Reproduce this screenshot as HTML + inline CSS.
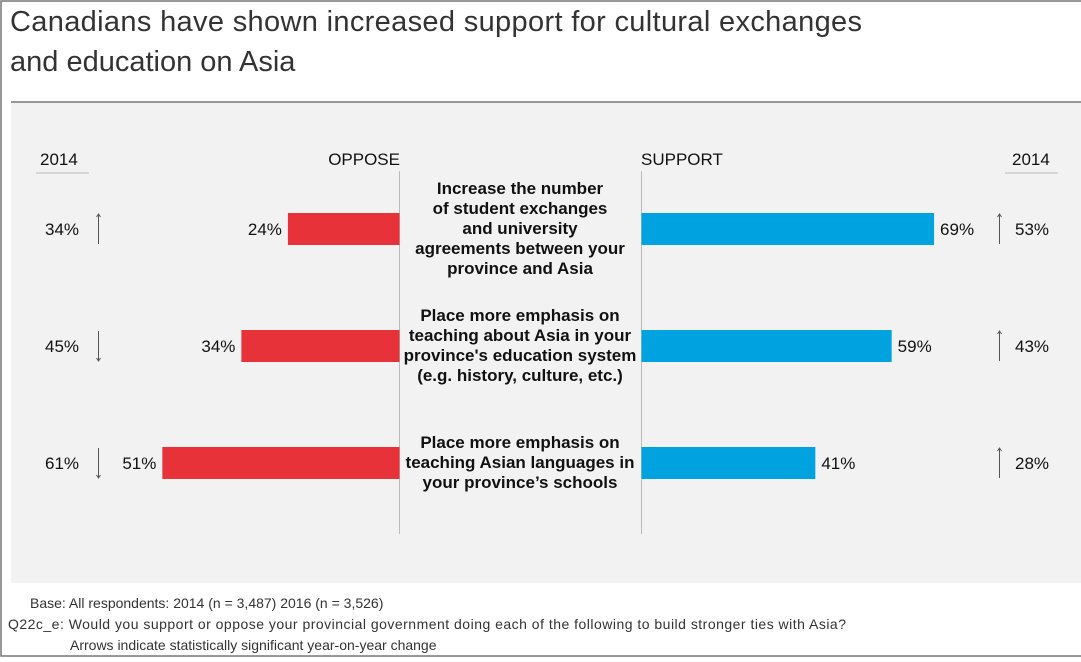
<!DOCTYPE html>
<html><head><meta charset="utf-8"><style>
body{margin:0;width:1081px;height:657px;background:#fff;overflow:hidden;font-family:"Liberation Sans Narrow","Liberation Sans",sans-serif;}
</style></head><body>
<svg width="1081" height="657" xmlns="http://www.w3.org/2000/svg" style="font-family:'Liberation Sans Narrow','Liberation Sans',sans-serif">
<rect x="1" y="1" width="1090" height="655" fill="#fff" stroke="#777" stroke-width="1.5"/>
<text x="10" y="31" font-family="Liberation Sans, sans-serif" font-size="29" fill="#333" textLength="852">Canadians have shown increased support for cultural exchanges</text>
<text x="10" y="71" font-family="Liberation Sans, sans-serif" font-size="29" fill="#333">and education on Asia</text>
<rect x="11" y="102" width="1070" height="481" fill="#f2f2f2"/>
<line x1="11" y1="102" x2="1081" y2="102" stroke="#777" stroke-width="1.5"/>
<text x="40" y="165" font-size="17" fill="#111">2014</text>
<line x1="36" y1="173" x2="89" y2="173" stroke="#bbb"/>
<text x="400" y="165" font-size="17" fill="#111" text-anchor="end">OPPOSE</text>
<text x="641" y="165" font-size="17" fill="#111">SUPPORT</text>
<text x="1012" y="165" font-size="17" fill="#111">2014</text>
<line x1="1005" y1="173" x2="1058" y2="173" stroke="#bbb"/>
<line x1="399.5" y1="171" x2="399.5" y2="534" stroke="#bbb"/>
<line x1="641.5" y1="171" x2="641.5" y2="534" stroke="#bbb"/>
<g id="rows"></g>
<text x="30" y="608" font-family="Liberation Sans, sans-serif" font-size="14" fill="#333">Base: All respondents: 2014 (n = 3,487) 2016 (n = 3,526)</text>
<text x="8" y="629" font-family="Liberation Sans, sans-serif" font-size="14" fill="#333" textLength="838">Q22c_e: Would you support or oppose your provincial government doing each of the following to build stronger ties with Asia?</text>
<text x="70" y="650" font-family="Liberation Sans, sans-serif" font-size="14" fill="#333">Arrows indicate statistically significant year-on-year change</text>
</svg>
<script>
const categories=[["Increase the number","of student exchanges","and university","agreements between your","province and Asia"],["Place more emphasis on","teaching about Asia in your","province's education system","(e.g. history, culture, etc.)"],["Place more emphasis on","teaching Asian languages in","your province’s schools"]];
const oppose=[24,34,51];
const support=[69,59,41];
const oppose2014=[34,45,61];
const support2014=[53,43,28];
const opposeArrow=["up","down","down"];
const supportArrow=["up","up","up"];
const NS="http://www.w3.org/2000/svg";
const g=document.getElementById('rows');
const xOpp=v=>399.5-v*4.65;
const xSup=v=>641.5+v*4.24;
const rowY=i=>229+i*117;
function mk(tag,attrs){const e=document.createElementNS(NS,tag);for(const k in attrs)e.setAttribute(k,attrs[k]);g.appendChild(e);return e;}
function txt(x,y,s,anchor,size){const t=mk('text',{x:x,y:y,'font-size':size||17,fill:'#111','text-anchor':anchor||'start','font-weight':'normal'});t.textContent=s;return t;}
function arrow(x,cy,dir){const y1=cy-15,y2=cy+15;const l=mk('line',{x1:x,y1:y1,x2:x,y2:y2,stroke:'#555','stroke-width':1});
const ty=dir==='up'?y1:y2,d=dir==='up'?3:-3;const p=mk('path',{d:`M${x-2},${ty+d} L${x},${ty} L${x+2},${ty+d}`,fill:'none',stroke:'#555'});

return l;}
categories.forEach((c,i)=>{
 const cy=rowY(i);
 const ro=mk('rect',{x:xOpp(oppose[i]),y:cy-16,width:399.5-xOpp(oppose[i]),height:32,fill:'#e8323a'});
 
 
 const rs=mk('rect',{x:641.5,y:cy-16,width:xSup(support[i])-641.5,height:32,fill:'#00a3e0'});
 
 
 const to=txt(xOpp(oppose[i])-6,cy+6,oppose[i]+'%','end');
 
 
 const ts=txt(xSup(support[i])+6,cy+6,support[i]+'%','start');
 
 
 const a=txt(45,cy+6,oppose2014[i]+'%','start');
 
 
 const b=txt(1015,cy+6,support2014[i]+'%','start');
 
 
 arrow(98.5,cy,opposeArrow[i]);
 arrow(999.5,cy,supportArrow[i]);
 const n=c.length,top=cy-(n-1)*10+5;
 c.forEach((s,j)=>{const t=txt(520,top+j*20,s,'middle',17);t.setAttribute('font-weight','bold');
 
 });
});
</script>
</body></html>
